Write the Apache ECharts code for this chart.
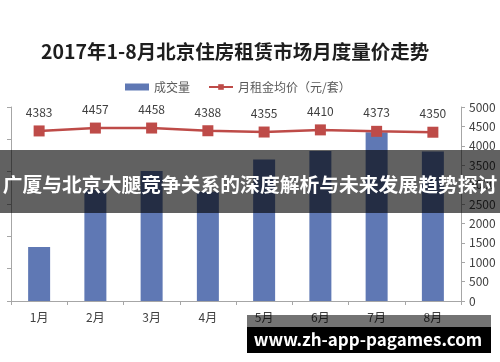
<!DOCTYPE html>
<html>
<head>
<meta charset="utf-8">
<script src="https://cdn.jsdelivr.net/npm/echarts@6/dist/echarts.min.js"></script>
<style>html,body{margin:0;padding:0;background:#fff}#c{width:500px;height:362px}</style>
</head>
<body>
<div id="c"></div>
<script>
var titleText = '2017年1-8月北京住房租赁市场月度量价走势';
var categories = ['1月','2月','3月','4月','5月','6月','7月','8月'];
var volume = [8350, 17200, 20100, 16900, 21900, 23200, 26100, 23100];
var price = [4383, 4457, 4458, 4388, 4355, 4410, 4373, 4350];
var volumeName = '成交量';
var priceName = '月租金均价（元/套）';
var bannerText = '广厦与北京大腿竞争关系的深度解析与未来发展趋势探讨';
var watermarkText = 'www.zh-app-pagames.com';

var FONT = '"Noto Sans CJK SC", "Noto Sans", sans-serif';
var chart = echarts.init(document.getElementById('c'), null, {renderer: 'canvas'});
chart.setOption({
  animation: false,
  backgroundColor: '#ffffff',
  textStyle: {fontFamily: FONT},
  title: {
    text: titleText, left: 36, top: 37,
    textStyle: {fontSize: 19.5, fontWeight: 'bold', color: '#1e1e1e', fontFamily: FONT}
  },
  legend: {
    top: 76, left: 120, itemGap: 18, itemWidth: 24, itemHeight: 7,
    textStyle: {fontSize: 12, color: '#595959', fontFamily: FONT},
    data: [
      {name: volumeName, icon: 'rect'},
      {name: priceName}
    ]
  },
  grid: {left: 11, right: 39, top: 107, bottom: 61},
  xAxis: {
    type: 'category', data: categories,
    axisLine: {lineStyle: {color: '#a6a6a6'}},
    axisTick: {show: true, length: 4, lineStyle: {color: '#a6a6a6'}},
    axisLabel: {color: '#404040', fontSize: 12, margin: 10, fontFamily: FONT}
  },
  yAxis: [
    {
      type: 'value', min: 0, max: 30000, interval: 5000, position: 'left',
      axisLine: {show: true, lineStyle: {color: '#a6a6a6'}},
      axisTick: {show: true, length: 4, lineStyle: {color: '#a6a6a6'}},
      axisLabel: {show: false},
      splitLine: {show: false}
    },
    {
      type: 'value', min: 0, max: 5000, interval: 500, position: 'right',
      axisLine: {show: true, lineStyle: {color: '#a6a6a6'}},
      axisTick: {show: true, length: 4, lineStyle: {color: '#a6a6a6'}},
      axisLabel: {color: '#404040', fontSize: 12, margin: 8, fontFamily: FONT,
        formatter: function (v) { return String(v); }},
      splitLine: {show: false}
    }
  ],
  series: [
    {
      name: volumeName, type: 'bar', data: volume, yAxisIndex: 0,
      barWidth: 22, itemStyle: {color: '#5f78b4'}
    },
    {
      name: priceName, type: 'line', data: price, yAxisIndex: 1,
      symbol: 'rect', symbolSize: 11,
      lineStyle: {color: '#be4b48', width: 2.5},
      itemStyle: {color: '#be4b48'},
      label: {show: true, position: 'top', distance: 7, color: '#404040', fontSize: 12, fontFamily: FONT}
    }
  ],
  graphic: [
    {type: 'rect', shape: {x: 0, y: 150, width: 500, height: 63}, style: {fill: 'rgba(0,0,0,0.62)'}, z: 100},
    {type: 'text', x: 250, y: 184, z: 101, style: {text: bannerText, fill: '#ffffff', font: 'bold 19.8px ' + FONT, textAlign: 'center', textVerticalAlign: 'middle'}},
    {type: 'rect', shape: {x: 247, y: 315, width: 244, height: 12}, style: {fill: 'rgba(0,0,0,0.55)'}, z: 100},
    {type: 'rect', shape: {x: 247, y: 327, width: 244, height: 26}, style: {fill: '#000000'}, z: 100},
    {type: 'text', x: 368, y: 340, z: 101, style: {text: watermarkText, fill: '#ffffff', font: 'bold 17px ' + FONT, textAlign: 'center', textVerticalAlign: 'middle'}}
  ]
});
</script>
</body>
</html>
